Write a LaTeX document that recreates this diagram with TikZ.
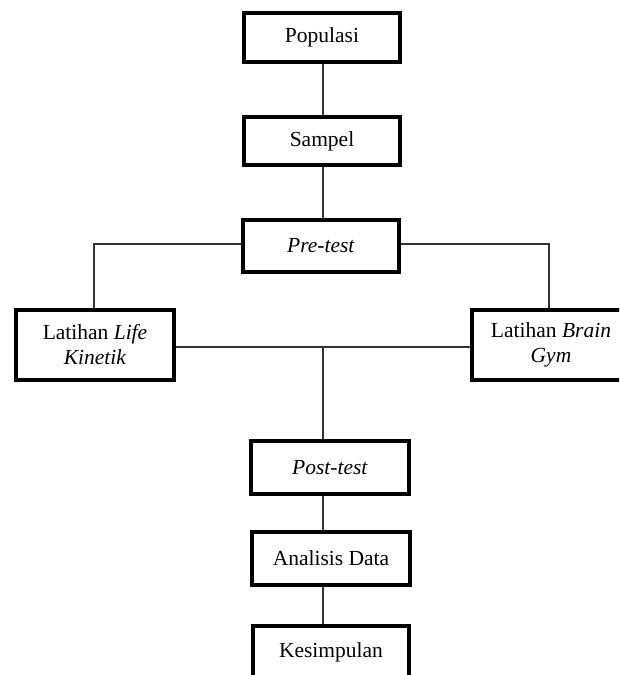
\documentclass[tikz,border=0pt]{standalone}
\usepackage{fontspec}
\setmainfont{Liberation Serif}
\begin{document}
\begin{tikzpicture}[x=1pt,y=-1pt,
  boxstyle/.style={draw=black, line width=4pt, fill=white, inner sep=0pt, align=center,
    font=\fontsize{21.5}{25}\selectfont, text=black},
  conn/.style={draw=black!80, line width=1.4pt}]
\useasboundingbox (0,0) rectangle (619,675);
\clip (0,0) rectangle (619,675);
\coordinate (spine) at (323,0);
\coordinate (lx) at (94,0);
\coordinate (rx) at (549,0);
\node[boxstyle, minimum width=156pt, minimum height=49pt] (pop) at (322,37.5) {Populasi};
\node[boxstyle, minimum width=156pt, minimum height=48pt] (samp) at (322,141) {Sampel};
\node[boxstyle, minimum width=156pt, minimum height=52pt] (pre) at (321,246) {\textit{Pre-test}};
\node[boxstyle, minimum width=158pt, minimum height=70pt] (life) at (95,345) {Latihan \textit{Life}\\\textit{Kinetik}};
\node[boxstyle, minimum width=158pt, minimum height=70pt] (brain) at (551,345) {Latihan \textit{Brain}\\\textit{Gym}};
\node[boxstyle, minimum width=158pt, minimum height=53pt] (post) at (330,467.5) {\textit{Post-test}};
\node[boxstyle, minimum width=158pt, minimum height=53pt] (ana) at (331,558.5) {Analisis Data};
\node[boxstyle, minimum width=156pt, minimum height=53pt] (kes) at (331,652) {Kesimpulan};
\path[conn] (pop.south -| spine) -- (samp.north -| spine);
\path[conn] (samp.south -| spine) -- (pre.north -| spine);
\path[conn] (pre.west) ++(0,-2) coordinate (prel) -- (prel -| lx) -- (life.north -| lx);
\path[conn] (pre.east) ++(0,-2) coordinate (prer) -- (prer -| rx) -- (brain.north -| rx);
\path[conn] (life.east) ++(0,2) coordinate (mid) -- (mid -| brain.west);
\path[conn] (mid -| spine) -- (post.north -| spine);
\path[conn] (post.south -| spine) -- (ana.north -| spine);
\path[conn] (ana.south -| spine) -- (kes.north -| spine);
\end{tikzpicture}
\end{document}
